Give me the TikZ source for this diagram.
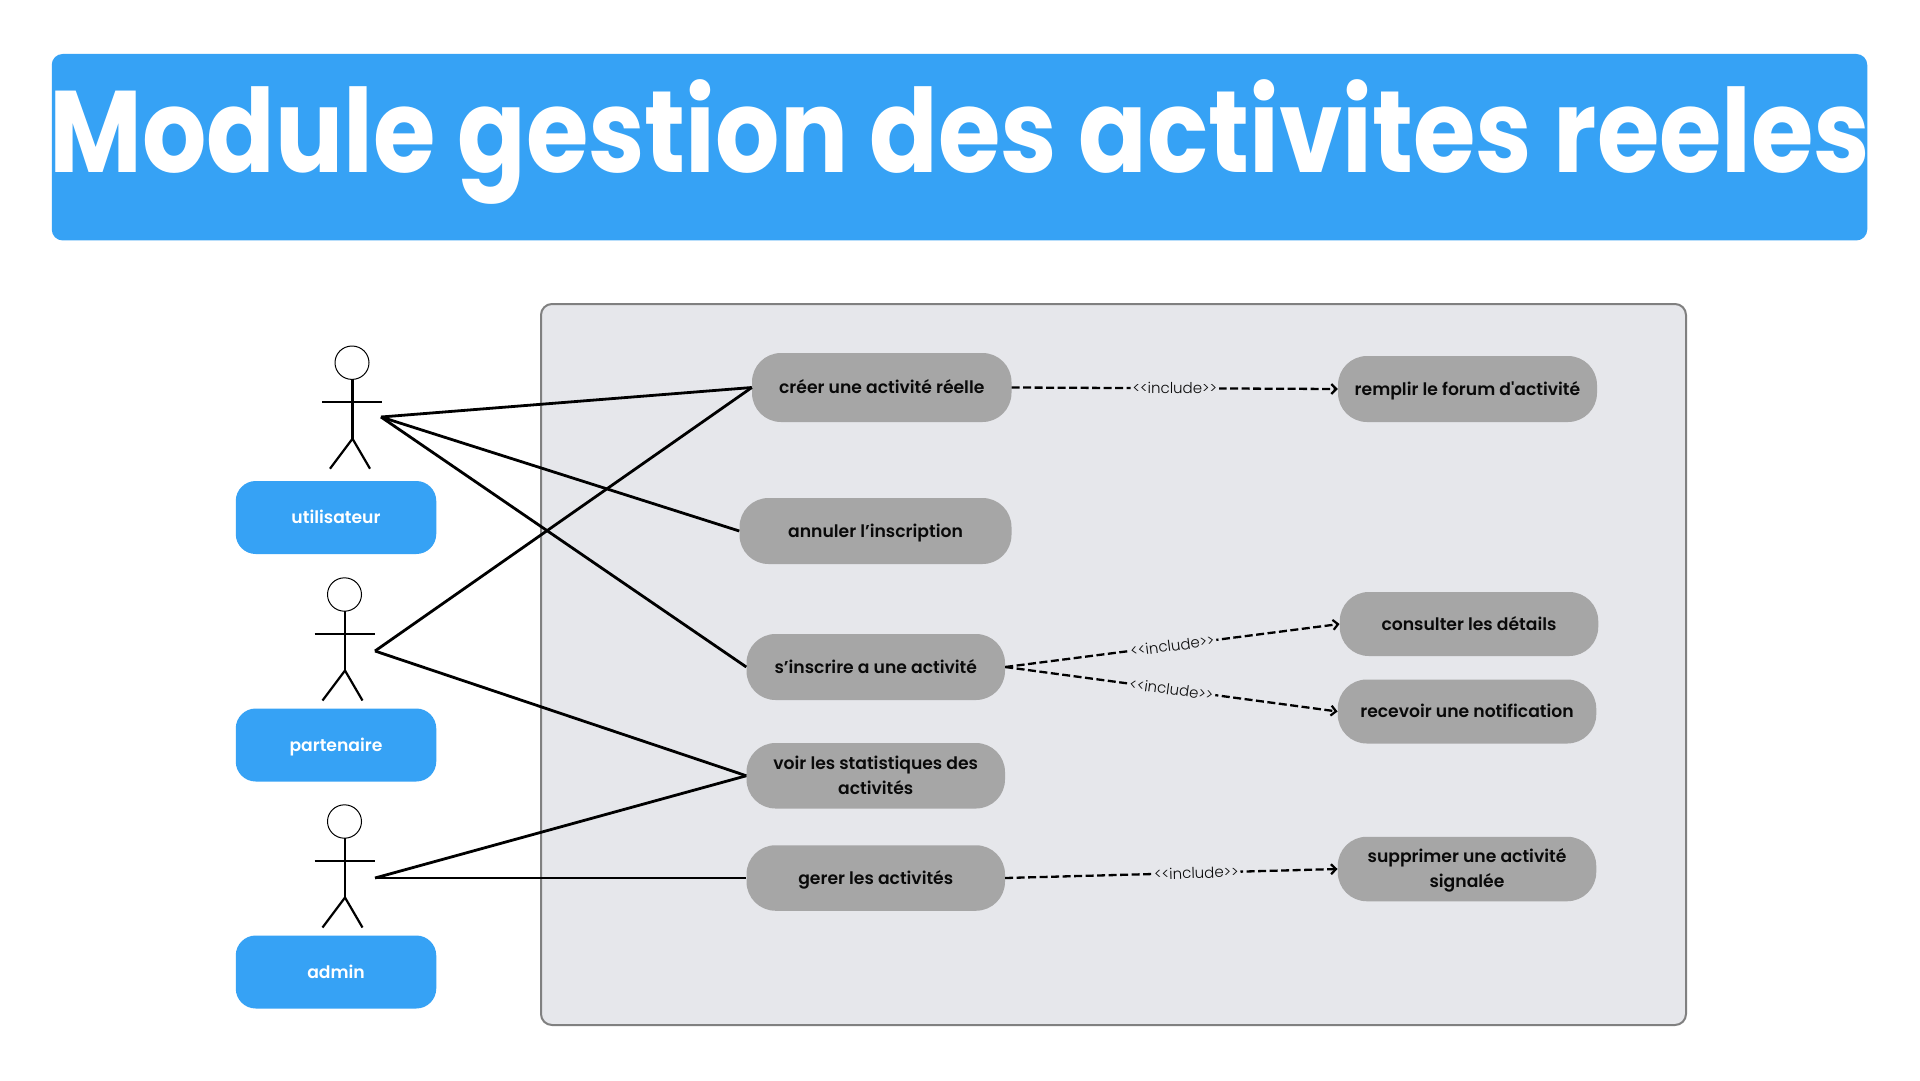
\documentclass[tikz,border=0pt]{standalone}
\usepackage{fontspec}
\usetikzlibrary{arrows.meta}
\setmainfont{Poppins}
\newfontfamily\titlefont{Poppins}[UprightFont=*-Bold]
\newfontfamily\ucfont{Poppins}[UprightFont=*-SemiBold]
\newfontfamily\lblfont{Poppins}[UprightFont=*-Light]
\definecolor{bluefill}{HTML}{36A2F5}
\definecolor{panelfill}{HTML}{E6E7EB}
\definecolor{panelline}{HTML}{808080}
\definecolor{ucfill}{HTML}{A6A6A6}
\definecolor{inkc}{HTML}{0A0A0A}
\newcommand{\ucstrut}{\rule[-6.3pt]{0pt}{25pt}}
\newcommand{\actstrut}{\rule[-5.9pt]{0pt}{24pt}}
\tikzset{
  usecase/.style={fill=ucfill,rounded corners=29,inner sep=0pt,align=center,text=inkc,font=\ucfont\fontsize{17.2}{25}\selectfont},
  actorbox/.style={fill=bluefill,rounded corners=20,inner sep=0pt,minimum width=200.5,minimum height=73,text=white,font=\ucfont\fontsize{17.2}{24}\selectfont},
  assoc/.style={line width=2.8pt,draw=black},
  incl/.style={line width=2.3pt,draw=black,dash pattern=on 8pt off 3.5pt,-{Straight Barb[length=5pt,width=10pt,line width=2.2pt]}},
  incllabel/.style={fill=panelfill,inner sep=2pt,sloped,text=inkc,font=\lblfont\fontsize{15}{17}\selectfont},
  limb/.style={line width=2.2pt,draw=black},
}
\newcommand{\stickman}[2]{%
  \begin{scope}[shift={(#1,#2)}]
    \draw[line width=1pt,fill=white] (0,0) ellipse [x radius=17,y radius=16.7];
    \draw[limb] (0.5,16.7) -- (0.5,76);
    \draw[limb] (-30,39.5) -- (30,39.5);
    \draw[limb] (-22,106) -- (0.5,76) -- (18,106);
  \end{scope}}
\begin{document}
\begin{tikzpicture}[x=1pt,y=-1pt]
\useasboundingbox[fill=white] (0,0) rectangle (1920,1080);
\node[fill=bluefill,rounded corners=11,inner sep=0pt,minimum width=1815.5,minimum height=186.5] (title) at (959.5,147.2) {};
\node[text=white,inner sep=0pt,anchor=base] (titletext) at (960,172.6) {\titlefont\scalebox{0.872}[1]{\fontsize{116}{124}\selectfont Module gestion des activites reeles}};
\node[fill=panelfill,draw=panelline,line width=2pt,rounded corners=11,inner sep=0pt,minimum width=1145,minimum height=721] (panel) at (1113.5,664.5) {};

\stickman{352}{362.7}
\stickman{344.5}{594.5}
\stickman{344.5}{821.5}
\coordinate (uu) at (381,417);
\coordinate (pp) at (375,651);
\coordinate (aa) at (375,878);
\node[actorbox] (utilisateur) at (336,517.5) {\actstrut utilisateur};
\node[actorbox] (partenaire) at (336,745) {\actstrut partenaire};
\node[actorbox] (admin) at (336,972) {\actstrut admin};

\node[usecase,minimum width=259.5,minimum height=69] (creer) at (881.75,387.5) {\ucstrut créer une activité réelle};
\node[usecase,minimum width=272,minimum height=66] (annuler) at (875.5,531) {\ucstrut annuler l’inscription};
\node[usecase,minimum width=258.5,minimum height=66] (inscrire) at (875.75,667) {\ucstrut s’inscrire a une activité};
\node[usecase,minimum width=258.5,minimum height=65.5] (voir) at (875.75,775.75) {voir les statistiques des\\activités};
\node[usecase,minimum width=258.5,minimum height=65.5] (gerer) at (875.75,878) {\ucstrut gerer les activités};
\node[usecase,minimum width=259,minimum height=66] (remplir) at (1467.5,389) {\ucstrut remplir le forum d'activité};
\node[usecase,minimum width=258.5,minimum height=64] (consulter) at (1469,624) {\ucstrut consulter les détails};
\node[usecase,minimum width=258.5,minimum height=64] (recevoir) at (1467,711.5) {\ucstrut recevoir une notification};
\node[usecase,minimum width=258.5,minimum height=64.5] (supprimer) at (1467,869) {\rule{0pt}{16pt}supprimer une activité\\signalée};

\draw[assoc] (uu) -- (creer.west);
\draw[assoc] (uu) -- (annuler.west);
\draw[assoc] (uu) -- (inscrire.west);
\draw[assoc] (pp) -- (creer.west);
\draw[assoc] (pp) -- (voir.west);
\draw[assoc] (aa) -- (voir.west);
\draw[assoc] (aa) -- (gerer.west);

\draw[incl] (creer.east) -- node[incllabel,pos=0.5] {<{}<include>{}>} (remplir.west);
\draw[incl] (inscrire.east) -- node[incllabel,pos=0.5] {<{}<include>{}>} (consulter.west);
\draw[incl] (inscrire.east) -- node[incllabel,pos=0.5] {<{}<include>{}>} (recevoir.west);
\draw[incl] (gerer.east) -- node[incllabel,pos=0.575] {<{}<include>{}>} (supprimer.west);
\end{tikzpicture}
\end{document}
